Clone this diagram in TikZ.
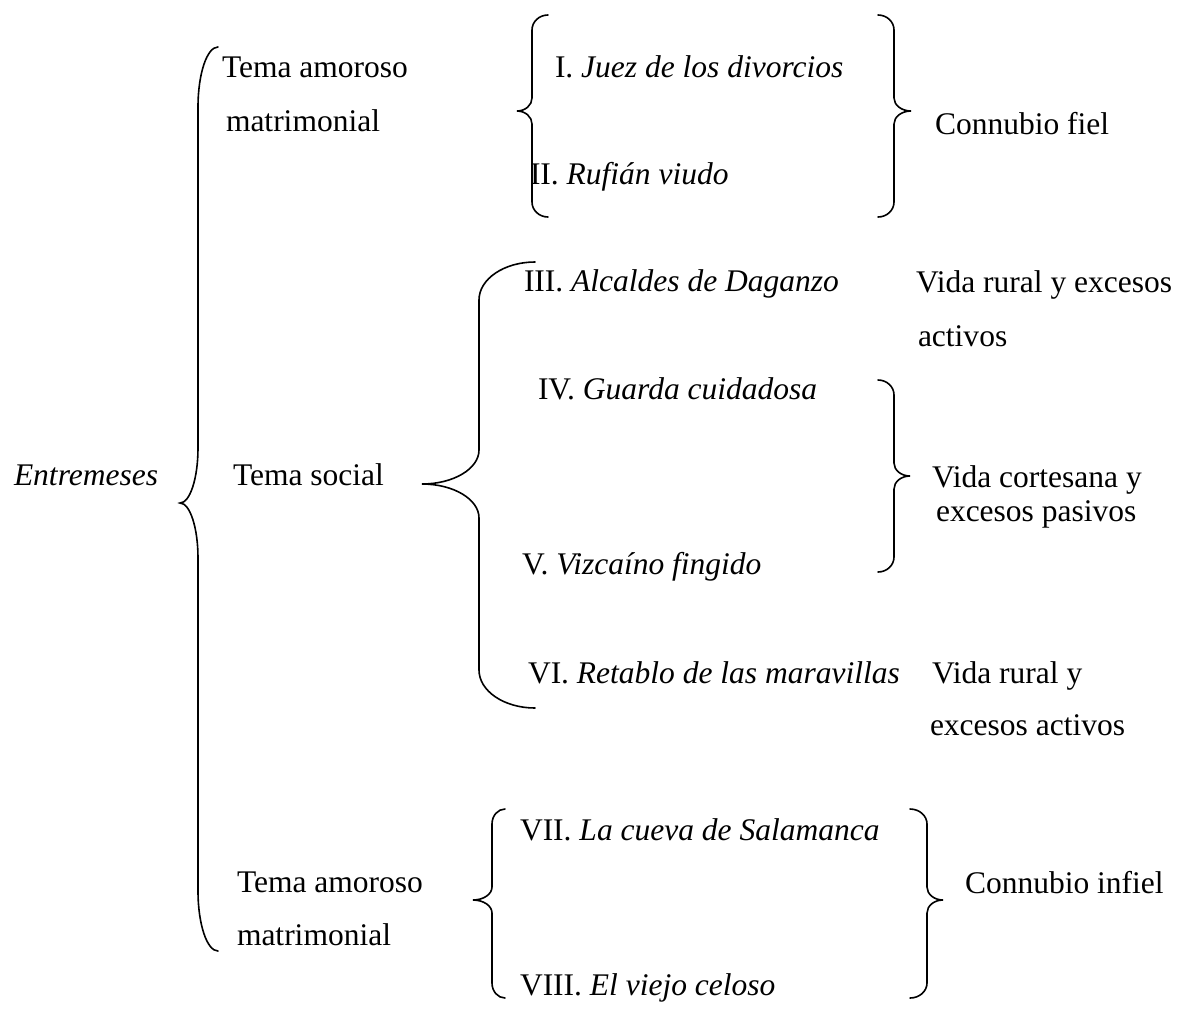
\documentclass[tikz,border=0pt]{standalone}
\usepackage{fontspec}
\setmainfont{Liberation Serif}
\newcommand\cbrace[8]{% E L T A M B r s
\draw[bracestyle] (#1,#4) .. controls ({#1+0.5523*(#2-#1)},#4) and (#2,{#4+0.4477*#7}) .. (#2,{#4+#7})
 -- (#2,{#5-#8}) .. controls (#2,{#5-0.4477*#8}) and ({#3+0.5523*(#2-#3)},#5) .. (#3,#5)
 .. controls ({#3+0.5523*(#2-#3)},#5) and (#2,{#5+0.4477*#8}) .. (#2,{#5+#8})
 -- (#2,{#6-#7}) .. controls (#2,{#6-0.4477*#7}) and ({#1+0.5523*(#2-#1)},#6) .. (#1,#6);}
\begin{document}
\begin{tikzpicture}[x=1pt,y=-1pt,
  bracestyle/.style={draw=black,line width=1.6pt,line cap=round},
  txt/.style={anchor=base west,inner sep=0pt,outer sep=0pt,font=\fontsize{31.5}{36}\selectfont}]
\useasboundingbox[fill=white] (0,0) rectangle (1185,1010);
% braces
\cbrace{218}{198}{180}{47}{503}{951}{60}{55}
\cbrace{535}{479}{422}{262}{484}{708}{38}{34}
\cbrace{548}{532}{517}{15}{111}{217}{15}{13}
\cbrace{878}{894}{911}{15}{111}{217}{15}{13}
\cbrace{878}{894}{910}{380}{476}{572}{15}{13}
\cbrace{505}{492}{473}{809}{900}{998}{15}{13}
\cbrace{910}{927}{943}{809}{900}{998}{15}{13}
% texts
\node[txt] (ent) at (14,485) {\textit{Entremeses}};
\node[txt] (t1a) at (222,77) {Tema amoroso};
\node[txt] (t1b) at (226,131) {matrimonial};
\node[txt] (t2) at (233,485) {Tema social};
\node[txt] (t3a) at (237,892) {Tema amoroso};
\node[txt] (t3b) at (237,945) {matrimonial};
\node[txt] (e1) at (555,77) {I. \textit{Juez de los divorcios}};
\node[txt] (e2) at (530,184) {II. \textit{Rufián viudo}};
\node[txt] (e3) at (524,291) {III. \textit{Alcaldes de Daganzo}};
\node[txt] (e4) at (538,399) {IV. \textit{Guarda cuidadosa}};
\node[txt] (e5) at (522,574) {V. \textit{Vizcaíno fingido}};
\node[txt] (e6) at (528,683) {VI. \textit{Retablo de las maravillas}};
\node[txt] (e7) at (520,840) {VII. \textit{La cueva de Salamanca}};
\node[txt] (e8) at (520,995) {VIII. \textit{El viejo celoso}};
\node[txt] (c1) at (935,134) {Connubio fiel};
\node[txt] (r1a) at (916,292) {Vida rural y excesos};
\node[txt] (r1b) at (918,346) {activos};
\node[txt] (r2a) at (932,487) {Vida cortesana y};
\node[txt] (r2b) at (936,521) {excesos pasivos};
\node[txt] (r3a) at (932,683) {Vida rural y};
\node[txt] (r3b) at (930,735) {excesos activos};
\node[txt] (c2) at (965,893) {Connubio infiel};
\end{tikzpicture}
\end{document}
